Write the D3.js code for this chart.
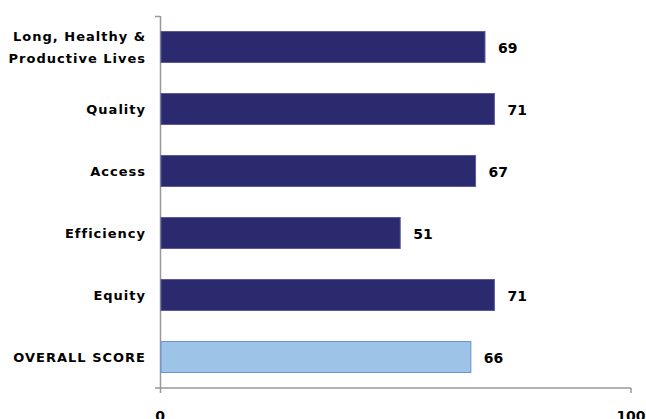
<!DOCTYPE html>
<html><head><meta charset="utf-8">
<script src="https://cdn.jsdelivr.net/npm/d3@7"></script>
<style>
html,body{margin:0;padding:0;background:#fff;}
text{font-family:"DejaVu Sans",Arial,sans-serif;font-weight:bold;fill:#000;}
</style></head>
<body>
<svg id="chart" width="646" height="419"></svg>
<script>
const categories = [["Long, Healthy &","Productive Lives"],["Quality"],["Access"],["Efficiency"],["Equity"],["OVERALL SCORE"]];
const values = [69, 71, 67, 51, 71, 66];
const highlight = [false, false, false, false, false, true];
const tickValues = [0, 100];

const svg = d3.select("#chart");
const x = d3.scaleLinear().domain([0, 100]).range([160, 631]);
const y = d3.scaleBand().domain(d3.range(categories.length)).range([16, 388]).paddingInner(0.5).paddingOuter(0.25);

const g = svg.append("g");
g.append("line").attr("x1",160.5).attr("x2",160.5).attr("y1",16).attr("y2",393).attr("stroke","#999").attr("stroke-width",1.5);
g.append("line").attr("x1",155).attr("x2",160).attr("y1",16.5).attr("y2",16.5).attr("stroke","#999").attr("stroke-width",1.5);
g.append("line").attr("x1",155).attr("x2",631).attr("y1",388).attr("y2",388).attr("stroke","#999").attr("stroke-width",1.5);
g.append("line").attr("x1",631).attr("x2",631).attr("y1",388).attr("y2",393).attr("stroke","#999").attr("stroke-width",1.5);

svg.selectAll("text.tick").data(tickValues).enter().append("text")
  .attr("class","tick").attr("x",d=>x(d)).attr("y",421).attr("text-anchor","middle")
  .style("font-size","14px").text(d=>d);

svg.selectAll("rect.bar").data(values).enter().append("rect")
  .attr("x", x(0)+1).attr("y",(d,i)=>y(i)).attr("width",d=>x(d)-x(0)-1).attr("height",y.bandwidth())
  .attr("fill",(d,i)=>highlight[i]?"#9DC3E6":"#2B2A6E")
  .attr("stroke",(d,i)=>highlight[i]?"#6F8FD8":"#5A5AA0").attr("stroke-width",1);

svg.selectAll("text.val").data(values).enter().append("text")
  .attr("class","val").attr("x",d=>x(d)+13).attr("y",(d,i)=>y(i)+y.bandwidth()/2+5.5)
  .style("font-size","14px").text(d=>d);

categories.forEach((lines,i)=>{
  const cy = y(i)+y.bandwidth()/2;
  const lh = 22;
  lines.forEach((t,j)=>{
    svg.append("text").attr("x",146).attr("y",cy + (j-(lines.length-1)/2)*lh + 4.5)
      .attr("text-anchor","end").style("font-size","13px").style("letter-spacing","1px").text(t);
  });
});
</script>
</body></html>
